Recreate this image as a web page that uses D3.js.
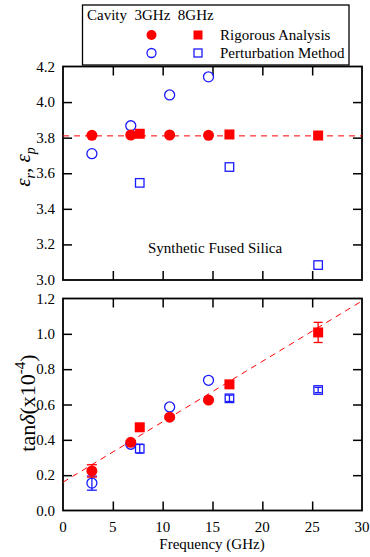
<!DOCTYPE html>
<html>
<head>
<meta charset="utf-8">
<script src="https://cdn.jsdelivr.net/npm/d3@7"></script>
<style>
  body { margin: 0; background: #fff; }
  svg text { font-family: 'Liberation Serif', 'Times New Roman', Times, serif !important; }
</style>
</head>
<body>
<svg id="chart" width="370" height="557"></svg>
<script>
// data
const freq3 = [2.9, 6.8, 10.7, 14.6];       // 3GHz cavity resonances
const freq8 = [7.7, 16.7, 25.6];            // 8GHz cavity resonances

const epsRig3 = [3.813, 3.815, 3.815, 3.813];
const epsRig8 = [3.822, 3.818, 3.812];
const epsPert3 = [3.71, 3.867, 4.04, 4.142];
const epsPert8 = [3.546, 3.635, 3.084];

const tanRig3 = [0.224, 0.386, 0.528, 0.625];
const tanRig3Err = [0.035, 0.01, 0.01, 0.01];
const tanRig8 = [0.471, 0.714, 1.008];
const tanRig8Err = [0.01, 0.01, 0.057];
const tanPert3 = [0.155, 0.375, 0.586, 0.737];
const tanPert3Err = [0.04, 0.0, 0.0, 0.0];
const tanPert8 = [0.35, 0.635, 0.682];
const tanPert8Err = [0.025, 0.018, 0.015];

const epsFit = 3.81;
const tanFit = [0.16, 0.0342];   // intercept, slope per GHz

const xTicks = [0, 5, 10, 15, 20, 25, 30];
const epsTicks = [3.0, 3.2, 3.4, 3.6, 3.8, 4.0, 4.2];
const tanTicks = [0.0, 0.2, 0.4, 0.6, 0.8, 1.0, 1.2];

const red = '#ff0000';
const blue = '#1a1aff';

const svg = d3.select('#chart').attr('font-family', 'Liberation Serif, serif');

const x = d3.scaleLinear().domain([0, 30]).range([63, 362]);
const yTop = d3.scaleLinear().domain([3.0, 4.2]).range([280, 66.5]);
const yBot = d3.scaleLinear().domain([0, 1.2]).range([510.5, 298.5]);

function frame(y, ticks, showX) {
  const g = svg.append('g');
  const [y0, y1] = y.range();
  const tick = 9;

  g.append('g')
      .attr('transform', 'translate(0,' + y0 + ')')
      .call(d3.axisBottom(x).tickValues(xTicks.slice(1, -1)).tickSize(-tick));
  g.append('g')
      .attr('transform', 'translate(0,' + y1 + ')')
      .call(d3.axisTop(x).tickValues(xTicks.slice(1, -1)).tickSize(-tick));
  g.append('g')
      .attr('transform', 'translate(' + x.range()[0] + ',0)')
      .call(d3.axisLeft(y).tickValues(ticks.slice(1, -1)).tickSize(-tick));
  g.append('g')
      .attr('transform', 'translate(' + x.range()[1] + ',0)')
      .call(d3.axisRight(y).tickValues(ticks.slice(1, -1)).tickSize(-tick));

  g.selectAll('.domain').remove();
  g.selectAll('.tick text').remove();
  g.selectAll('.tick line').attr('stroke', '#000').attr('stroke-width', 1.5);

  g.append('rect')
      .attr('x', x.range()[0]).attr('y', y1)
      .attr('width', x.range()[1] - x.range()[0]).attr('height', y0 - y1)
      .attr('fill', 'none').attr('stroke', '#000').attr('stroke-width', 1.8);

  // y tick labels
  g.selectAll('.ylab')
    .data(ticks)
    .enter()
    .append('text')
      .attr('x', 55).attr('y', d => y(d) + 5)
      .attr('text-anchor', 'end')
      .attr('font-size', 15)
      .text(d => d.toFixed(1));

  if (showX) {
    g.selectAll('.xlab')
      .data(xTicks)
      .enter()
      .append('text')
        .attr('x', d => x(d)).attr('y', y0 + 21.5)
        .attr('text-anchor', 'middle')
        .attr('font-size', 15)
        .text(d => d);
  }
  return g;
}

frame(yTop, epsTicks, false);
frame(yBot, tanTicks, true);

// fit lines
svg.append('line')
    .attr('x1', x(0)).attr('x2', x(30))
    .attr('y1', yTop(epsFit)).attr('y2', yTop(epsFit))
    .attr('stroke', red).attr('stroke-width', 1).attr('stroke-dasharray', '6,5');
svg.append('line')
    .attr('x1', x(0)).attr('x2', x(30))
    .attr('y1', yBot(tanFit[0])).attr('y2', yBot(tanFit[0] + tanFit[1] * 30))
    .attr('stroke', red).attr('stroke-width', 1).attr('stroke-dasharray', '6,5');

function errBars(xs, vals, errs, y, color, cap) {
  xs.forEach(function(f, i) {
    if (!errs[i]) return;
    const g = svg.append('g').attr('stroke', color).attr('stroke-width', 1.3);
    g.append('line').attr('x1', x(f)).attr('x2', x(f)).attr('y1', y(vals[i] - errs[i])).attr('y2', y(vals[i] + errs[i]));
    [-1, 1].forEach(s => {
      g.append('line').attr('x1', x(f) - cap).attr('x2', x(f) + cap)
        .attr('y1', y(vals[i] + s * errs[i])).attr('y2', y(vals[i] + s * errs[i]));
    });
  });
}

function circles(xs, vals, y, color, filled) {
  svg.selectAll(null)
    .data(xs.map((f, i) => [f, vals[i]]))
    .enter()
    .append('circle')
      .attr('cx', d => x(d[0])).attr('cy', d => y(d[1]))
      .attr('r', filled ? 5.5 : 5)
      .attr('fill', filled ? color : 'none')
      .attr('stroke', color).attr('stroke-width', filled ? 0 : 1.3);
}

function squares(xs, vals, y, color, filled) {
  const s = filled ? 10 : 8.5;
  svg.selectAll(null)
    .data(xs.map((f, i) => [f, vals[i]]))
    .enter()
    .append('rect')
      .attr('x', d => x(d[0]) - s / 2).attr('y', d => y(d[1]) - s / 2)
      .attr('width', s).attr('height', s)
      .attr('fill', filled ? color : 'none')
      .attr('stroke', filled ? 'none' : color).attr('stroke-width', 1.3);
}

// top panel
circles(freq3, epsPert3, yTop, blue, false);
squares(freq8, epsPert8, yTop, blue, false);
circles(freq3, epsRig3, yTop, red, true);
squares(freq8, epsRig8, yTop, red, true);

// bottom panel
errBars(freq3, tanPert3, tanPert3Err, yBot, blue, 5);
errBars(freq8, tanPert8, tanPert8Err, yBot, blue, 3.5);
circles(freq3, tanPert3, yBot, blue, false);
squares(freq8, tanPert8, yBot, blue, false);
errBars(freq3, tanRig3, tanRig3Err, yBot, red, 5);
errBars(freq8, tanRig8, tanRig8Err, yBot, red, 4.5);
circles(freq3, tanRig3, yBot, red, true);
squares(freq8, tanRig8, yBot, red, true);

svg.append('text')
    .attr('x', 148).attr('y', 253)
    .attr('font-size', 15)
    .text('Synthetic Fused Silica');

// axis titles
const epsLabel = svg.append('text')
    .attr('transform', 'translate(30,167) rotate(-90)')
    .attr('text-anchor', 'middle')
    .attr('font-size', 21)
    .attr('font-style', 'italic');
epsLabel.append('tspan').text('ε');
epsLabel.append('tspan').attr('font-size', 14).attr('dy', 5).text('r');
epsLabel.append('tspan').attr('dy', -5).attr('font-style', 'normal').text(', ');
epsLabel.append('tspan').text('ε');
epsLabel.append('tspan').attr('font-size', 14).attr('dy', 5).text('p');

const tanLabel = svg.append('text')
    .attr('transform', 'translate(35,403) rotate(-90)')
    .attr('text-anchor', 'middle')
    .attr('font-size', 22);
tanLabel.append('tspan').text('tan');
tanLabel.append('tspan').attr('font-style', 'italic').text('δ');
tanLabel.append('tspan').text('(x10');
tanLabel.append('tspan').attr('font-size', 15).attr('dy', -10).text('-4');
tanLabel.append('tspan').attr('dy', 10).text(')');

svg.append('text')
    .attr('x', 212).attr('y', 549)
    .attr('text-anchor', 'middle')
    .attr('font-size', 15)
    .text('Frequency (GHz)');

// legend
const leg = svg.append('g');
leg.append('rect')
    .attr('x', 82.5).attr('y', 5).attr('width', 266.5).attr('height', 60)
    .attr('fill', '#fff').attr('stroke', '#000').attr('stroke-width', 1.3);
leg.append('text').attr('x', 87).attr('y', 20).attr('font-size', 15)
    .attr('xml:space', 'preserve').text('Cavity  3GHz  8GHz');
leg.append('circle').attr('cx', 151.5).attr('cy', 35).attr('r', 5).attr('fill', red);
leg.append('rect').attr('x', 193.5).attr('y', 30.5).attr('width', 9).attr('height', 9).attr('fill', red);
leg.append('text').attr('x', 220).attr('y', 40).attr('font-size', 15).text('Rigorous Analysis');
leg.append('circle').attr('cx', 151.5).attr('cy', 53).attr('r', 4.5).attr('fill', 'none').attr('stroke', blue).attr('stroke-width', 1.3);
leg.append('rect').attr('x', 194).attr('y', 49).attr('width', 8).attr('height', 8).attr('fill', 'none').attr('stroke', blue).attr('stroke-width', 1.3);
leg.append('text').attr('x', 220).attr('y', 58).attr('font-size', 15).text('Perturbation Method');
</script>
</body>
</html>
